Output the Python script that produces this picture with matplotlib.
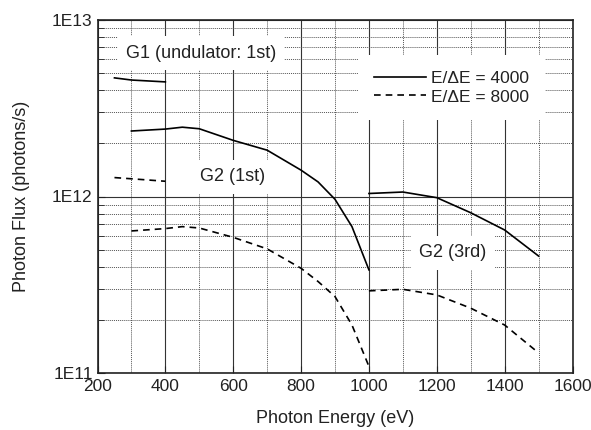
import numpy as np
import matplotlib.pyplot as plt
from matplotlib.ticker import FixedLocator, NullFormatter, LogLocator

plt.rcParams['font.family'] = ['Liberation Sans', 'DejaVu Sans']

# G1 undulator 1st order
g1_e = [250, 300, 400]
g1_4000 = [4.7e12, 4.57e12, 4.46e12]
g1_8000 = [1.28e12, 1.26e12, 1.22e12]

# G2 1st order
g2a_e = [300, 400, 450, 500, 600, 700, 800, 850, 900, 950, 1000]
g2a_4000 = [2.35e12, 2.41e12, 2.47e12, 2.42e12, 2.08e12, 1.83e12, 1.41e12, 1.21e12, 0.964e12, 6.75e11, 3.84e11]
g2a_8000 = [6.38e11, 6.58e11, 6.75e11, 6.63e11, 5.87e11, 5.05e11, 3.92e11, 3.3e11, 2.71e11, 1.87e11, 1.09e11]

# G2 3rd order
g2b_e = [1000, 1100, 1200, 1300, 1400, 1500]
g2b_4000 = [1.04e12, 1.06e12, 0.985e12, 8.09e11, 6.46e11, 4.6e11]
g2b_8000 = [2.92e11, 2.98e11, 2.77e11, 2.33e11, 1.87e11, 1.30e11]

fig = plt.figure(figsize=(5.91, 4.30), dpi=100)
ax = fig.add_axes([97.5 / 591, 1 - 373 / 430, 475 / 591, 353 / 430])
ax.set_yscale('log')
ax.set_xlim(200, 1600)
ax.set_ylim(1e11, 1e13)

ax.xaxis.set_major_locator(FixedLocator(np.arange(200, 1601, 200)))
ax.xaxis.set_minor_locator(FixedLocator(np.arange(300, 1600, 200)))
ax.yaxis.set_major_locator(FixedLocator([1e11, 1e12, 1e13]))
ax.yaxis.set_minor_locator(LogLocator(base=10, subs=np.arange(2, 10)))
ax.yaxis.set_minor_formatter(NullFormatter())
ax.set_yticklabels(['1E11', '1E12', '1E13'])

ax.grid(which='major', color='#333333', lw=0.8, ls='-')
ax.grid(which='minor', color='#555555', lw=0.7, ls=(0, (1, 1)))
ax.tick_params(which='both', direction='in', labelsize=12.5, colors='#222222')
ax.tick_params(which='major', length=5)
ax.tick_params(which='minor', length=4)
ax.tick_params(axis='x', which='minor', length=0)
ax.tick_params(axis='x', pad=4)
for s in ax.spines.values():
    s.set_linewidth(1.2)
    s.set_color('#222222')

kw = dict(color='black', lw=1.2)
l1, = ax.plot(g1_e, g1_4000, ls='-', **kw)
l2, = ax.plot(g1_e, g1_8000, ls=(0, (4, 3)), **kw)
ax.plot(g2a_e, g2a_4000, ls='-', **kw)
ax.plot(g2a_e, g2a_8000, ls=(0, (4, 3)), **kw)
ax.plot(g2b_e, g2b_4000, ls='-', **kw)
ax.plot(g2b_e, g2b_8000, ls=(0, (4, 3)), **kw)

box = dict(facecolor='white', edgecolor='none', pad=6)
ax.text(505, 6.5e12, 'G1 (undulator: 1st)', ha='center', va='center', fontsize=13, color='#222222', bbox=box)
ax.text(597, 1.29e12, 'G2 (1st)', ha='center', va='center', fontsize=13, color='#222222', bbox=box)
ax.text(1248, 4.8e11, 'G2 (3rd)', ha='center', va='center', fontsize=13, color='#222222', bbox=box)

leg = ax.legend([l1, l2], ['E/ΔE = 4000', 'E/ΔE = 8000'], loc='upper right',
                bbox_to_anchor=(0.96, 0.925), frameon=True, fancybox=False,
                edgecolor='none', framealpha=1, fontsize=12.5, handlelength=3.0,
                handletextpad=0.3, borderpad=0.9, labelspacing=0.2)
for t in leg.get_texts():
    t.set_color('#222222')

ax.set_xlabel('Photon Energy (eV)', fontsize=13, color='#222222', labelpad=12)
ax.set_ylabel('Photon Flux (photons/s)', fontsize=13, color='#222222', labelpad=16)

fig.savefig('out.png', dpi=100)
